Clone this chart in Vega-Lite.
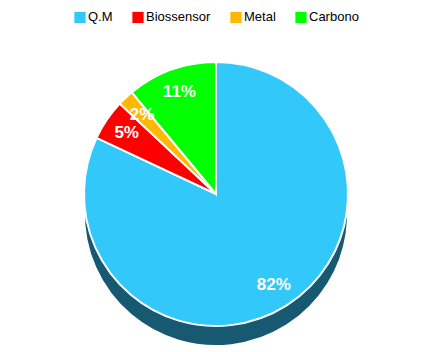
{
  "$schema": "https://vega.github.io/schema/vega-lite/v6.json",
  "width": 432,
  "height": 352,
  "autosize": {"type": "fit", "contains": "padding"},
  "padding": {"top": 10, "left": 5, "right": 5, "bottom": 4},
  "background": "white",
  "data": {
    "values": [
      {"categoria": "Q.M", "valor": 82, "rotulo": "82%", "ordem": 1},
      {"categoria": "Biossensor", "valor": 5, "rotulo": "5%", "ordem": 2},
      {"categoria": "Metal", "valor": 2, "rotulo": "2%", "ordem": 3},
      {"categoria": "Carbono", "valor": 11, "rotulo": "11%", "ordem": 4}
    ]
  },
  "encoding": {
    "theta": {"field": "valor", "type": "quantitative", "stack": true},
    "order": {"field": "ordem", "type": "quantitative"}
  },
  "layer": [
    {
      "mark": {"type": "arc", "outerRadius": 132, "yOffset": 20, "stroke": "white", "strokeWidth": 2},
      "encoding": {
        "color": {
          "field": "categoria",
          "type": "nominal",
          "sort": ["Q.M", "Biossensor", "Metal", "Carbono"],
          "scale": {"domain": ["Q.M", "Biossensor", "Metal", "Carbono"], "range": ["#33C8FA", "#FF0000", "#FFB800", "#00FF00"]},
          "legend": {
            "title": null,
            "orient": "top",
            "direction": "horizontal",
            "symbolType": "square",
            "symbolSize": 150,
            "symbolStrokeWidth": 1,
            "symbolStrokeColor": "#555555",
            "labelFont": "Liberation Sans",
            "labelFontSize": 13,
            "labelColor": "#000000",
            "labelOffset": 1,
            "columnPadding": 16,
            "padding": 0,
            "offset": 14
          }
        }
      }
    },
    {
      "mark": {"type": "arc", "outerRadius": 132, "yOffset": 20, "fill": "#000000", "opacity": 0.55, "stroke": "white", "strokeWidth": 2}
    },
    {
      "mark": {"type": "arc", "outerRadius": 132, "stroke": "white", "strokeWidth": 2},
      "encoding": {
        "color": {"field": "categoria", "type": "nominal"}
      }
    },
    {
      "mark": {"type": "text", "radius": 108, "font": "Liberation Sans", "fontSize": 17, "fontWeight": "bold", "fill": "white"},
      "encoding": {
        "text": {"field": "rotulo", "type": "nominal"}
      }
    }
  ],
  "config": {
    "view": {"stroke": null},
    "legend": {"layout": {"top": {"anchor": "middle"}}}
  }
}
